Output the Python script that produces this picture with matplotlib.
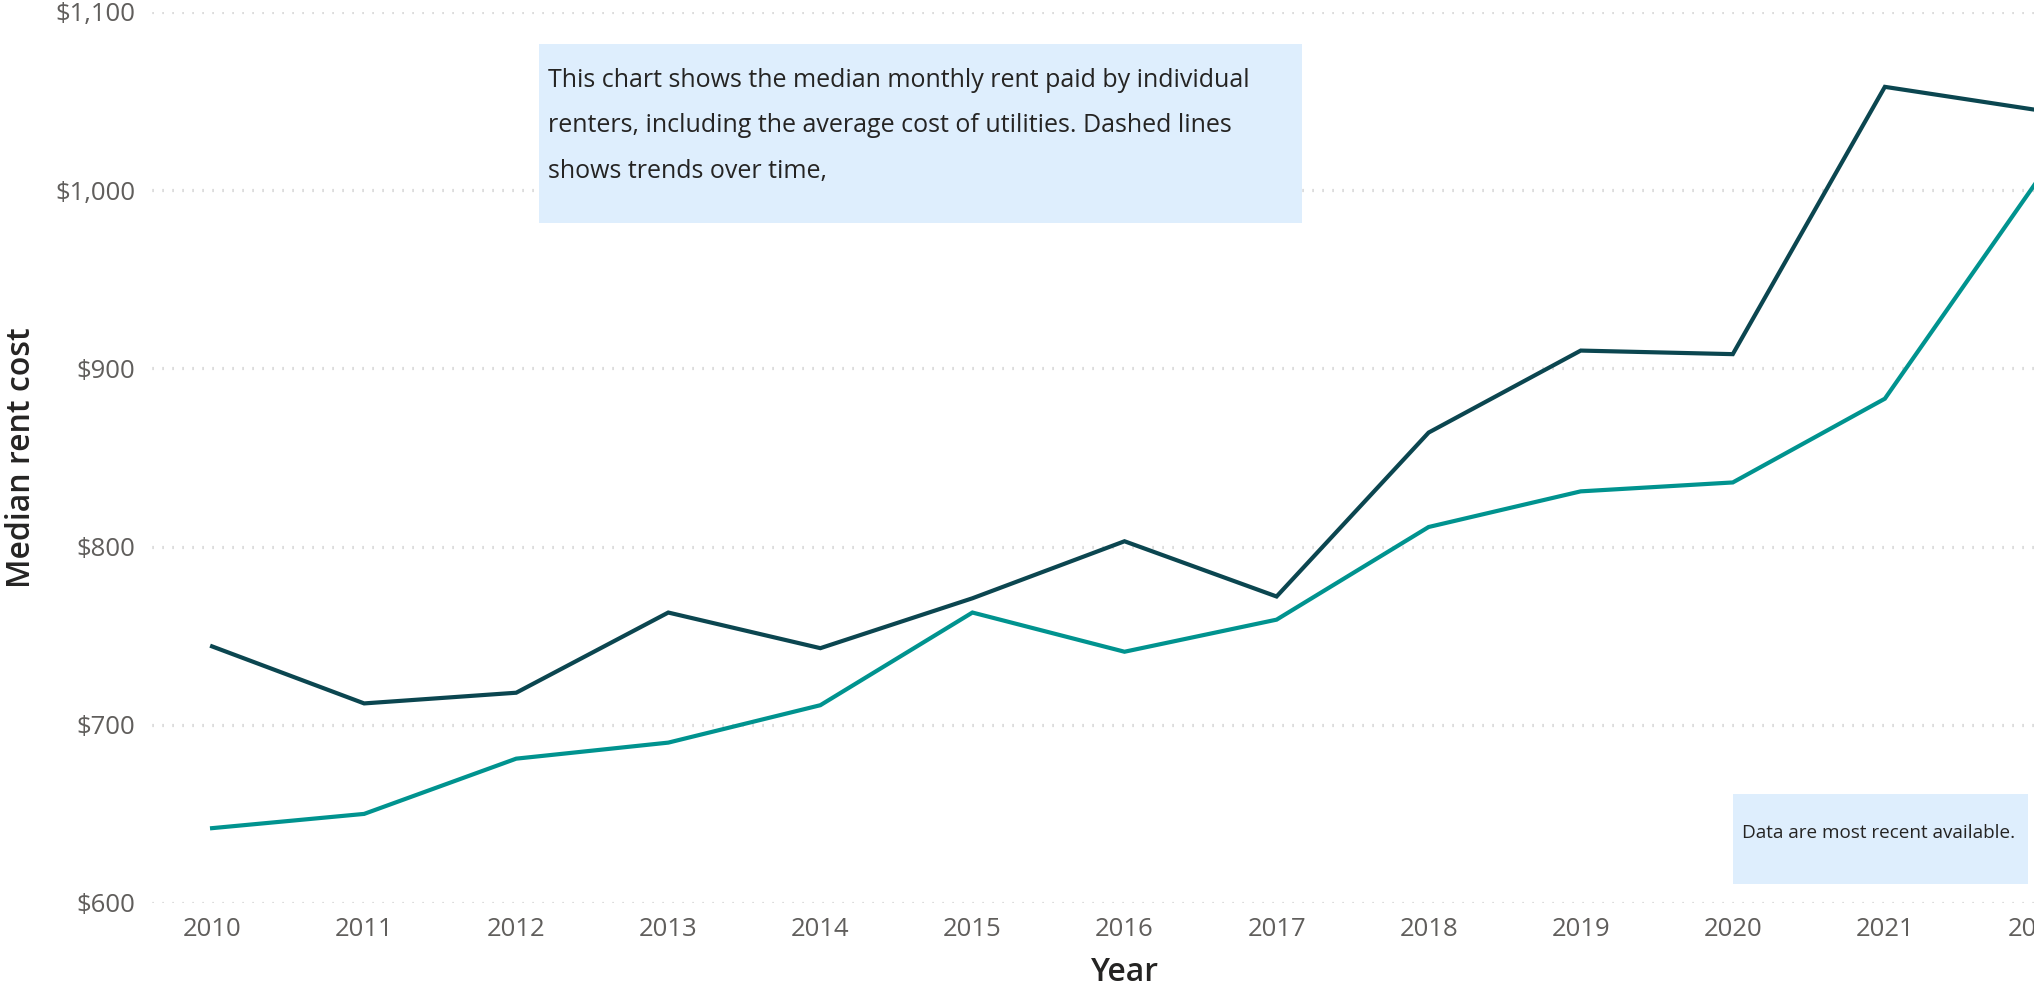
import matplotlib
matplotlib.use("Agg")
import matplotlib.pyplot as plt
from matplotlib.ticker import FuncFormatter

years = [2010, 2011, 2012, 2013, 2014, 2015, 2016, 2017, 2018, 2019, 2020, 2021, 2022]
rent_dark = [744, 712, 718, 763, 743, 771, 803, 772, 864, 910, 908, 1058, 1045]
rent_teal = [642, 650, 681, 690, 711, 763, 741, 759, 811, 831, 836, 883, 1005]
y_ticks = [600, 700, 800, 900, 1000, 1100]

note_main = ("This chart shows the median monthly rent paid by individual\n"
             "renters, including the average cost of utilities. Dashed lines\n"
             "shows trends over time,")
note_small = "Data are most recent available."

plt.rcParams['lines.scale_dashes'] = False
plt.rcParams['font.family'] = ['Open Sans', 'DejaVu Sans']

W, H = 2034, 991
fig = plt.figure(figsize=(W / 100, H / 100), dpi=100)

# axes extends slightly past right edge of figure (as in reference)
left_px, right_px, top_px, bottom_px = 152, 2097, 12, 903
ax = fig.add_axes([left_px / W, (H - bottom_px) / H,
                   (right_px - left_px) / W, (bottom_px - top_px) / H])

ax.set_xlim(2009.605, 2022.395)
ax.set_ylim(600, 1100)

for y in y_ticks:
    ax.axhline(y, color='#C6C6C6', linewidth=2.3,
               linestyle=(0, (0.8, 6.4)), dash_capstyle='butt', zorder=1)

ax.plot(years, rent_dark, color='#0B4650', linewidth=3.0, zorder=3,
        solid_joinstyle='miter')
ax.plot(years, rent_teal, color='#00938F', linewidth=3.0, zorder=3,
        solid_joinstyle='miter')

ax.set_xticks(years)
ax.set_yticks(y_ticks)
ax.yaxis.set_major_formatter(FuncFormatter(lambda v, p: f"${v:,.0f}"))
ax.tick_params(axis='both', length=0, labelsize=18.5, labelcolor='#605E5C')
ax.tick_params(axis='x', pad=10)
ax.tick_params(axis='y', pad=12)
for s in ax.spines.values():
    s.set_visible(False)

ax.set_xlabel('Year', fontsize=23, color='#252423', fontweight='semibold')
ax.xaxis.set_label_coords(0.5, -0.078)
ax.xaxis.label.set_va('center')
ax.set_ylabel('Median rent cost', fontsize=23, color='#252423',
              fontweight='semibold')
ax.yaxis.set_label_coords(-(152 - 22) / 1945, 0.5)
ax.yaxis.label.set_va('center')

box1 = plt.Rectangle((539 / W, 1 - 223 / H), (1302 - 539) / W, (223 - 44) / H,
                     transform=fig.transFigure, facecolor='#DEEEFD',
                     edgecolor='none', zorder=2)
ax.add_artist(box1)
box1.set_clip_on(False)
box2 = plt.Rectangle((1733 / W, 1 - 884 / H), (2028 - 1733) / W, (884 - 794) / H,
                     transform=fig.transFigure, facecolor='#DEEEFD',
                     edgecolor='none', zorder=2)
ax.add_artist(box2)
box2.set_clip_on(False)

fig.text(548 / W, 1 - 126 / H, note_main, fontsize=18, color='#252423',
         ha='left', va='center', linespacing=2.07, zorder=4)
fig.text(1742 / W, 1 - 833 / H, note_small, fontsize=13.6, color='#252423',
         ha='left', va='center', zorder=4)

fig.savefig('out.png', dpi=100)
